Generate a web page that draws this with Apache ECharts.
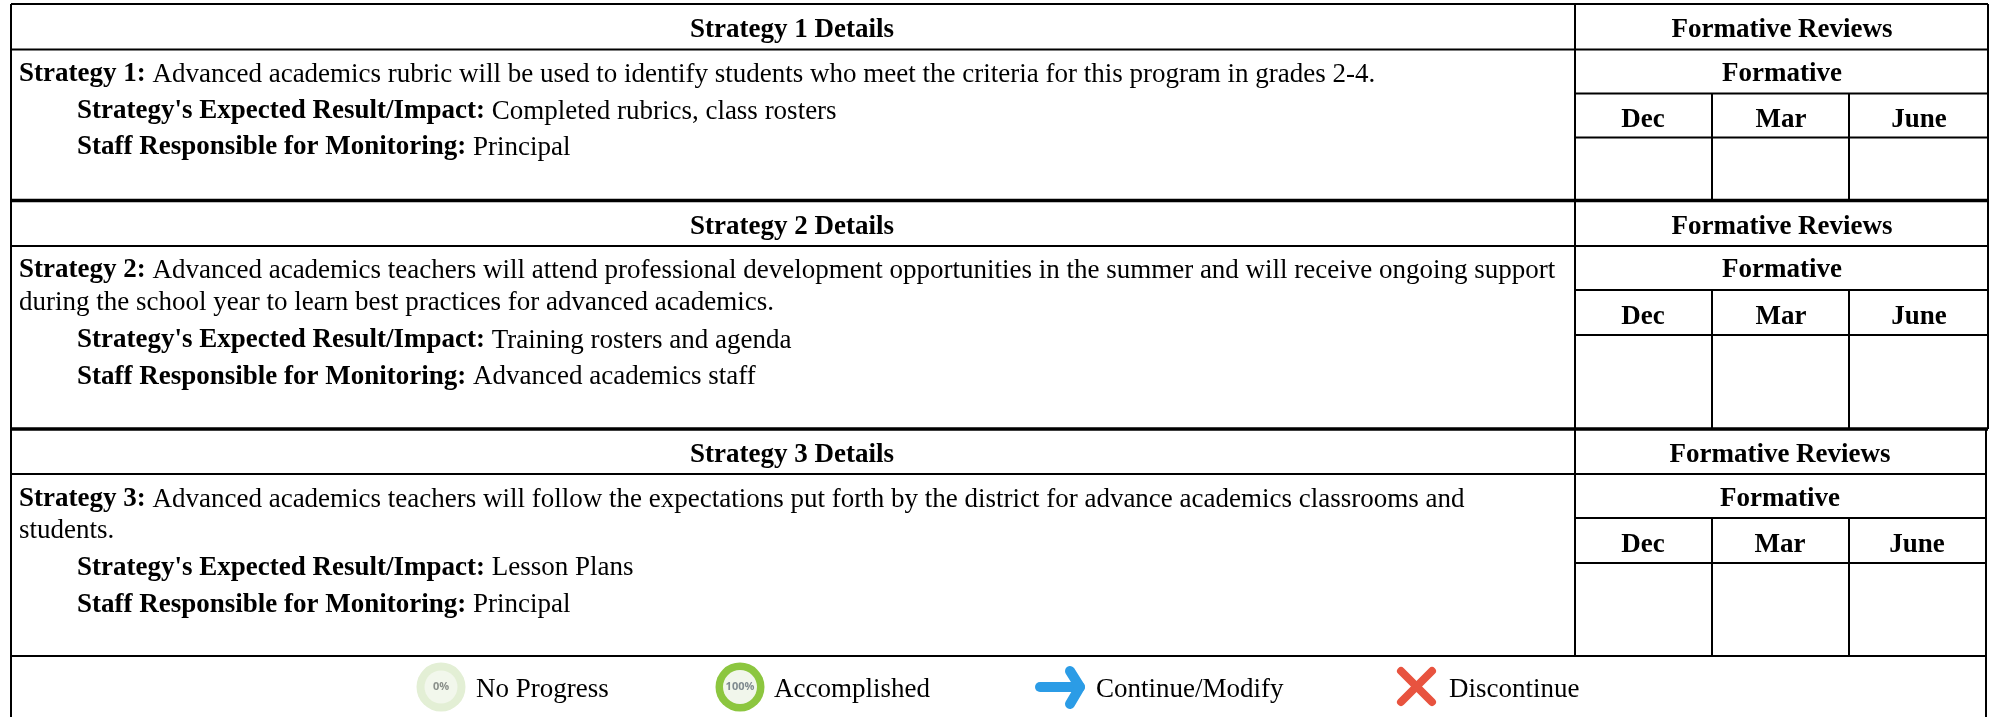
<!DOCTYPE html>
<html><head><meta charset="utf-8">
<style>html,body{margin:0;padding:0;background:#fff}#c{width:1993px;height:717px}</style>
<script src="https://cdn.jsdelivr.net/npm/echarts@6/dist/echarts.min.js"></script></head>
<body><div id="c"></div><script>
const strategyTitles=['Strategy 1 Details','Strategy 2 Details','Strategy 3 Details'];
const reviewTitle='Formative Reviews';
const formativeLabel='Formative';
const months=['Dec','Mar','June'];
const strategyLines=[
 [['Strategy 1:',' Advanced academics rubric will be used to identify students who meet the criteria for this program in grades 2-4.']],
 [['Strategy 2:',' Advanced academics teachers will attend professional development opportunities in the summer and will receive ongoing support'],['','during the school year to learn best practices for advanced academics.']],
 [['Strategy 3:',' Advanced academics teachers will follow the expectations put forth by the district for advance academics classrooms and'],['','students.']]];
const impacts=['Completed rubrics, class rosters','Training rosters and agenda','Lesson Plans'];
const staff=['Principal','Advanced academics staff','Principal'];
const legend=['No Progress','Accomplished','Continue/Modify','Discontinue'];

const F='"Liberation Serif","Times New Roman",serif';
const FS=27;
const g=[];
const line=(x1,y1,x2,y2,w)=>g.push({type:'line',shape:{x1,y1,x2,y2},style:{stroke:'#000',lineWidth:w||2}});
const txt=(x,y,t,o)=>g.push({type:'text',x,y,style:Object.assign({text:t,fontFamily:F,fontSize:FS,fill:'#000',textVerticalAlign:'middle'},o||{})});
const bold=(x,y,t,a)=>txt(x,y,t,{fontWeight:'bold',textAlign:a||'left'});
const cv=document.createElement('canvas').getContext('2d');
const width=(t,b)=>{cv.font=(b?'bold ':'')+FS+'px "Liberation Serif"';return cv.measureText(t).width;};
const boldNorm=(x,y,b,n)=>{bold(x,y,b);txt(x+width(b,true),y,n);};

const L=11;
const X=1575, M1=1712, M2=1849;
const blocks=[
 {top:4,rows:[49.5,93.5,137.5],bot:200,r:1988,title:30.5,form:74.5,mon:120.5,text:[74.5],imp:111.5,stf:147.5,fc:1782,mc:[1643,1781,1919]},
 {top:200,rows:[246,290,335],bot:429,r:1988,title:227.5,form:270.5,mon:317.5,text:[270.5,303],imp:340.5,stf:377,fc:1782,mc:[1643,1781,1919]},
 {top:429,rows:[474,518,563],bot:656,r:1986,title:455.5,form:499.5,mon:545.5,text:[499.5,531],imp:568,stf:605,fc:1780,mc:[1643,1780,1917]}];
blocks.forEach((b,i)=>{
  bold(792,b.title,strategyTitles[i],'center');
  bold(b.fc,b.title,reviewTitle,'center');
  bold(b.fc,b.form,formativeLabel,'center');
  months.forEach((m,j)=>bold(b.mc[j],b.mon,m,'center'));
  strategyLines[i].forEach((l,j)=>{
    if(l[0])boldNorm(19,b.text[j],l[0],l[1]);else txt(19,b.text[j],l[1]);
  });
  boldNorm(77,b.imp,"Strategy's Expected Result/Impact:",' '+impacts[i]);
  boldNorm(77,b.stf,'Staff Responsible for Monitoring:',' '+staff[i]);
  line(L,b.rows[0],b.r,b.rows[0]);
  line(X,b.top,X,b.bot);
  line(X,b.rows[1],b.r,b.rows[1]);
  line(X,b.rows[2],b.r,b.rows[2]);
  line(M1,b.rows[1],M1,b.bot);
  line(M2,b.rows[1],M2,b.bot);
});
line(L,4,1988,4);
line(L,200.5,1988,200.5,3.5);
line(L,429,1988,429,3.5);
line(L,656,1986,656);
line(L,4,L,717);
line(1988,4,1988,429);
line(1986,429,1986,717);
// legend
g.push({type:'circle',shape:{cx:441,cy:687,r:24.5},style:{fill:'#e3efd5'}});
g.push({type:'circle',shape:{cx:441,cy:687,r:16.5},style:{fill:'#f2f7ec'}});
txt(441,687,'0%',{fontFamily:'"Open Sans"',fontSize:11,fontWeight:'bold',fill:'#8a8f8a',textAlign:'center'});
g.push({type:'circle',shape:{cx:740,cy:687,r:24.5},style:{fill:'#8cc63f'}});
g.push({type:'circle',shape:{cx:740,cy:687,r:17},style:{fill:'#f1f6eb'}});
txt(740,687,'100%',{fontFamily:'"Open Sans"',fontSize:11,fontWeight:'bold',fill:'#7f8a8f',textAlign:'center'});
txt(476,690,legend[0]);txt(774,690,legend[1]);txt(1096,690,legend[2]);txt(1449,690,legend[3]);
g.push({type:'polyline',shape:{points:[[1040,687],[1080,687]]},style:{stroke:'#2b9ce6',lineWidth:10,lineCap:'round',fill:'none'}});
g.push({type:'polyline',shape:{points:[[1070,671],[1080,687],[1070,704]]},style:{stroke:'#2b9ce6',lineWidth:10,lineCap:'round',lineJoin:'round',fill:'none'}});
g.push({type:'line',shape:{x1:1401,y1:671,x2:1432,y2:702},style:{stroke:'#e8533f',lineWidth:8,lineCap:'round'}});
g.push({type:'line',shape:{x1:1432,y1:671,x2:1401,y2:702},style:{stroke:'#e8533f',lineWidth:8,lineCap:'round'}});
const chart=echarts.init(document.getElementById('c'),null,{renderer:'canvas'});
chart.setOption({animation:false,graphic:{elements:g}});
</script></body></html>
